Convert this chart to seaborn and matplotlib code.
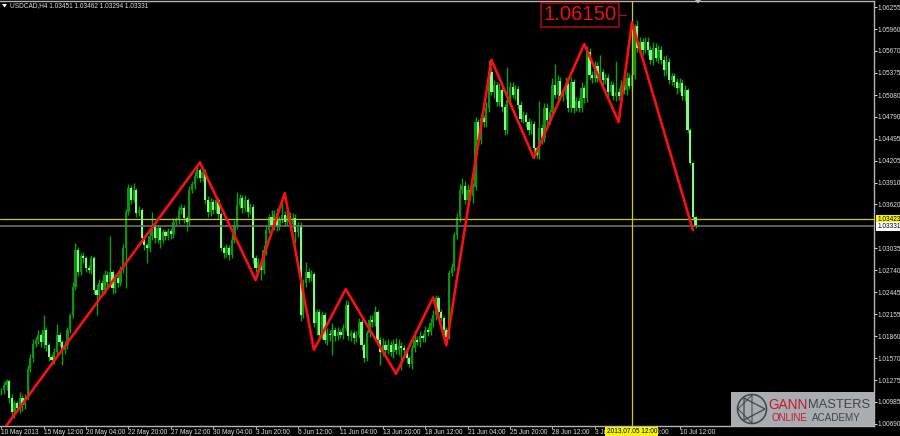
import matplotlib
matplotlib.use("Agg")
import numpy as np
import pandas as pd
import matplotlib.pyplot as plt
import matplotlib.patches as mpatches
import matplotlib.transforms as mtrans
import seaborn as sns

# H4 closes, 10 bars per row
closes = [
    1.0114, 1.0121, 1.0126, 1.0104, 1.0085, 1.0097, 1.0090, 1.0104, 1.0094, 1.0104,
    1.0142, 1.0157, 1.0176, 1.0181, 1.0188, 1.0178, 1.0194, 1.0174, 1.0158, 1.0154,
    1.0165, 1.0188, 1.0178, 1.0168, 1.0174, 1.0194, 1.0214, 1.0252, 1.0301, 1.0272,
    1.0293, 1.0290, 1.0277, 1.0274, 1.0290, 1.0248, 1.0241, 1.0257, 1.0248, 1.0268,
    1.0258, 1.0272, 1.0250, 1.0264, 1.0257, 1.0274, 1.0304, 1.0352, 1.0384, 1.0368,
    1.0381, 1.0351, 1.0355, 1.0317, 1.0308, 1.0304, 1.0320, 1.0335, 1.0317, 1.0330,
    1.0315, 1.0325, 1.0320, 1.0327, 1.0323, 1.0339, 1.0341, 1.0355, 1.0357, 1.0344,
    1.0339, 1.0381, 1.0389, 1.0400, 1.0408, 1.0397, 1.0405, 1.0368, 1.0352, 1.0365,
    1.0355, 1.0368, 1.0349, 1.0304, 1.0297, 1.0304, 1.0295, 1.0315, 1.0335, 1.0361,
    1.0371, 1.0357, 1.0368, 1.0352, 1.0359, 1.0290, 1.0277, 1.0285, 1.0274, 1.0301,
    1.0328, 1.0345, 1.0335, 1.0349, 1.0333, 1.0341, 1.0348, 1.0339, 1.0347, 1.0336,
    1.0344, 1.0325, 1.0335, 1.0214, 1.0257, 1.0272, 1.0264, 1.0269, 1.0204, 1.0218,
    1.0188, 1.0214, 1.0181, 1.0189, 1.0188, 1.0194, 1.0186, 1.0192, 1.0188, 1.0197,
    1.0228, 1.0186, 1.0190, 1.0184, 1.0188, 1.0205, 1.0174, 1.0157, 1.0190, 1.0208,
    1.0205, 1.0218, 1.0181, 1.0165, 1.0174, 1.0168, 1.0174, 1.0165, 1.0176, 1.0168,
    1.0173, 1.0170, 1.0168, 1.0157, 1.0149, 1.0170, 1.0181, 1.0178, 1.0186, 1.0184,
    1.0194, 1.0192, 1.0204, 1.0214, 1.0237, 1.0218, 1.0210, 1.0194, 1.0185, 1.0270,
    1.0279, 1.0321, 1.0345, 1.0381, 1.0387, 1.0368, 1.0381, 1.0373, 1.0385, 1.0472,
    1.0448, 1.0477, 1.0472, 1.0491, 1.0539, 1.0512, 1.0521, 1.0499, 1.0515, 1.0492,
    1.0461, 1.0501, 1.0519, 1.0508, 1.0516, 1.0495, 1.0476, 1.0481, 1.0472, 1.0461,
    1.0469, 1.0437, 1.0428, 1.0464, 1.0451, 1.0491, 1.0475, 1.0485, 1.0521, 1.0508,
    1.0527, 1.0507, 1.0508, 1.0523, 1.0491, 1.0525, 1.0491, 1.0500, 1.0491, 1.0517,
    1.0504, 1.0565, 1.0535, 1.0531, 1.0547, 1.0531, 1.0539, 1.0528, 1.0531, 1.0512,
    1.0521, 1.0507, 1.0512, 1.0507, 1.0521, 1.0515, 1.0531, 1.0520, 1.0535, 1.0600,
    1.0571, 1.0579, 1.0568, 1.0579, 1.0568, 1.0555, 1.0571, 1.0557, 1.0568, 1.0555,
    1.0541, 1.0552, 1.0528, 1.0533, 1.0525, 1.0517, 1.0524, 1.0507, 1.0515, 1.0461,
    1.0417, 1.0345, 1.0333,
]
# wick lengths in pips, same order as closes
upper_pips = [
    3, 4, 3, 2, 5, 4, 3, 8, 4, 5,
    6, 5, 6, 4, 7, 3, 21, 4, 3, 4,
    5, 14, 4, 3, 6, 5, 3, 6, 9, 4,
    4, 5, 3, 4, 5, 3, 8, 6, 4, 7,
    5, 48, 3, 5, 4, 6, 5, 4, 5, 4,
    9, 3, 5, 2, 4, 3, 6, 17, 4, 5,
    3, 4, 3, 4, 3, 5, 4, 5, 6, 4,
    3, 6, 4, 5, 7, 3, 5, 4, 5, 6,
    4, 5, 4, 3, 3, 5, 4, 8, 6, 17,
    5, 4, 6, 3, 5, 3, 4, 5, 6, 7,
    6, 4, 9, 5, 8, 6, 16, 5, 7, 5,
    6, 5, 4, 3, 5, 13, 5, 6, 3, 5,
    4, 6, 5, 8, 5, 10, 5, 7, 4, 6,
    6, 5, 5, 4, 5, 6, 4, 3, 5, 6,
    7, 8, 3, 4, 10, 7, 8, 6, 7, 8,
    9, 6, 5, 4, 3, 5, 14, 6, 7, 5,
    6, 5, 6, 7, 4, 3, 5, 3, 4, 5,
    5, 4, 6, 8, 10, 6, 8, 5, 6, 7,
    4, 6, 5, 8, 16, 6, 7, 4, 9, 5,
    4, 44, 7, 6, 5, 4, 5, 6, 4, 5,
    6, 4, 3, 36, 5, 6, 7, 5, 10, 29,
    8, 5, 6, 9, 5, 7, 4, 6, 5, 8,
    5, 8, 6, 5, 7, 5, 23, 4, 6, 5,
    6, 5, 42, 6, 7, 5, 8, 6, 9, 3,
    8, 6, 5, 7, 6, 5, 8, 6, 7, 6,
    5, 9, 6, 5, 4, 6, 7, 5, 6, 3,
    3, 2, 1,
]
lower_pips = [
    6, 5, 6, 7, 5, 8, 5, 6, 7, 5,
    3, 4, 5, 4, 5, 6, 7, 8, 5, 6,
    5, 4, 5, 20, 6, 5, 4, 3, 4, 5,
    4, 6, 5, 4, 5, 6, 27, 6, 7, 5,
    8, 5, 7, 6, 5, 4, 3, 53, 4, 5,
    3, 6, 4, 5, 7, 20, 6, 5, 7, 6,
    11, 5, 6, 5, 7, 6, 4, 5, 6, 7,
    13, 5, 4, 6, 3, 5, 4, 6, 7, 5,
    6, 5, 7, 4, 6, 5, 7, 4, 5, 6,
    4, 6, 5, 7, 3, 6, 5, 4, 13, 5,
    6, 4, 5, 7, 6, 5, 4, 6, 5, 7,
    5, 14, 6, 8, 3, 5, 6, 4, 5, 16,
    6, 5, 4, 7, 8, 27, 6, 5, 4, 6,
    4, 5, 6, 8, 5, 4, 6, 5, 4, 5,
    6, 5, 3, 17, 5, 7, 6, 5, 8, 6,
    7, 29, 5, 6, 4, 7, 5, 4, 6, 5,
    5, 6, 4, 5, 6, 5, 4, 6, 5, 3,
    4, 6, 5, 7, 5, 6, 8, 5, 9, 4,
    6, 5, 7, 6, 5, 4, 8, 6, 5, 7,
    6, 5, 7, 4, 6, 5, 4, 5, 7, 6,
    5, 6, 4, 6, 8, 5, 7, 6, 5, 4,
    6, 5, 7, 5, 6, 5, 7, 4, 6, 5,
    7, 5, 6, 7, 5, 6, 5, 7, 5, 6,
    4, 6, 7, 5, 6, 5, 7, 4, 8, 5,
    6, 5, 7, 4, 6, 5, 7, 4, 6, 5,
    7, 6, 5, 7, 6, 8, 5, 6, 7, 3,
    3, 2, 2,
]

zigzag_bars = [2, 75, 96, 107, 118, 130, 149, 163, 168, 185, 201, 220, 233, 238, 261]
zigzag_prices = [1.0067, 1.0418, 1.0261, 1.0377, 1.0168, 1.0249, 1.0136, 1.0238, 1.0174,
                 1.0555, 1.0424, 1.0576, 1.0472, 1.0605, 1.0328]

price_ticks = [1.06255, 1.05960, 1.05670, 1.05375, 1.05080, 1.04790, 1.04495, 1.04205,
               1.03910, 1.03620, 1.03035, 1.02740, 1.02445, 1.02155, 1.01860, 1.01570,
               1.01275, 1.00985, 1.00690]
date_labels = ["10 May 2013", "15 May 12:00", "20 May 04:00", "22 May 20:00", "27 May 12:00",
               "30 May 04:00", "3 Jun 20:00", "6 Jun 12:00", "11 Jun 04:00", "13 Jun 20:00",
               "18 Jun 12:00", "21 Jun 04:00", "25 Jun 20:00", "28 Jun 12:00", "3 Jul 04:00",
               "5 Jul 20:00", "10 Jul 12:00"]
date_bars = list(range(0, 16 * len(date_labels), 16))

bid_price = 1.03331
marked_price = 1.03423
cross_bar = 238
peak_label = 1.06150

UP = "#0a960a"
DOWN = "#86f886"
WICK = "#0da00d"
GRID = "#b4b4b4"
TEXT = "#e0e0e0"
YELLOW = "#c9c72a"
LABEL_SIZE = 4.7

sns.set_theme(style="dark", rc={"axes.facecolor": "black", "figure.facecolor": "black",
                                "savefig.facecolor": "black"})
plt.rcParams["font.family"] = ["Liberation Sans", "DejaVu Sans"]

df = pd.DataFrame({"close": closes})
df["bar"] = np.arange(len(df))
df["open"] = df["close"].shift(1).fillna(df["close"])
df["high"] = df[["open", "close"]].max(axis=1) + np.array(upper_pips) / 10000
df["low"] = df[["open", "close"]].min(axis=1) - np.array(lower_pips) / 10000
df["rising"] = df["close"] >= df["open"]

fig = plt.figure(figsize=(9, 4.36), dpi=100)
ax = fig.add_axes([0, 10 / 436, 874 / 900, 425 / 436])

ax.vlines(df["bar"], df["low"], df["high"], color=WICK, lw=1.0, zorder=2)
ax.bar(df["bar"], (df["close"] - df["open"]).abs(), bottom=df[["open", "close"]].min(axis=1),
       width=0.85, color=np.where(df["rising"], UP, DOWN), lw=0, zorder=3)

ax.axhline(marked_price, color=YELLOW, lw=0.9, zorder=4)
ax.axhline(bid_price, color="#6e6e6e", lw=1.2, zorder=4)
ax.axvline(cross_bar, color=YELLOW, lw=0.9, zorder=4)

zigzag = pd.DataFrame({"bar": zigzag_bars, "price": zigzag_prices})
sns.lineplot(data=zigzag, x="bar", y="price", sort=False, estimator=None, color="#fa1010",
             lw=1.9, ax=ax, zorder=5)

# axis scale: 2.65 px per bar, 7493 px per unit of price
ax.set_xlim(-1.2 / 2.65, (874 - 1.2) / 2.65)
ax.set_ylim(1.00690 - 2 / 7493, 1.06255 + 6 / 7493)
ax.set_xlabel("")
ax.set_ylabel("")

ax.yaxis.tick_right()
ax.set_yticks(price_ticks)
ax.set_yticklabels([f"{p:.5f}" for p in price_ticks])
ax.set_xticks(date_bars)
ax.set_xticklabels(date_labels, ha="left")
ax.tick_params(axis="y", length=2, width=0.7, color=TEXT, labelcolor=TEXT, labelsize=LABEL_SIZE, pad=0.8, right=True)
ax.tick_params(axis="x", length=1.8, width=0.7, color=GRID, labelcolor=TEXT, labelsize=LABEL_SIZE, pad=0, bottom=True)
for name in ["top", "right", "bottom"]:
    ax.spines[name].set_color(GRID)
    ax.spines[name].set_linewidth(1.0)
ax.spines["left"].set_visible(False)

# price flags on the right, time flag under the crosshair
flag_x = mtrans.blended_transform_factory(ax.transAxes, ax.transData)
for price, bg in [(marked_price, "#f6f600"), (bid_price, "white")]:
    ax.text(1.0035, price, f"{price:.5f}", transform=flag_x, fontsize=LABEL_SIZE, color="black", va="center",
            ha="left", clip_on=False, zorder=7,
            bbox=dict(facecolor=bg, edgecolor="none", pad=0.7))
flag_y = mtrans.blended_transform_factory(ax.transData, ax.transAxes)
ax.text(cross_bar, -0.0135, "2013.07.05 12:00", transform=flag_y, fontsize=LABEL_SIZE, color="black", va="center",
        ha="center", clip_on=False, zorder=7, bbox=dict(facecolor="#f6f600", edgecolor="none", pad=0.9))

# level label of the peak with its leader
ax.text(218.4, peak_label, f"{peak_label:.5f}", fontsize=14.6, color="#f01010", va="center", ha="center",
        zorder=6, bbox=dict(facecolor="black", edgecolor="#a80808", lw=1.2, pad=1.6))
ax.plot([233, 235.6], [peak_label, peak_label], color="#b01010", lw=0.8, zorder=6)

# overlay in screen pixels for the header and the logo
over = fig.add_axes([0, 0, 1, 1], facecolor="none")
over.set_xlim(0, 900)
over.set_ylim(436, 0)
over.axis("off")
over.text(10, 5.8, "USDCAD,H4 1.03451 1.03462 1.03294 1.03331", fontsize=LABEL_SIZE, color=TEXT, va="center")
over.add_patch(mpatches.Polygon([[2, 4], [7, 4], [4.5, 7.5]], color="white", lw=0))
over.add_patch(mpatches.Polygon([[695, 0], [701, 0], [698, 3.5]], color="#b8bcc4", lw=0))

over.add_patch(mpatches.Rectangle((731, 392), 143, 34, facecolor="#a9adb1", edgecolor="none"))
LOGO = "#3f454b"
over.add_patch(mpatches.Circle((752, 409), 14.5, fill=False, edgecolor=LOGO, lw=1.1))
over.add_patch(mpatches.Polygon([[744, 398], [765, 409], [744, 420]], fill=False, edgecolor=LOGO, lw=0.9))
over.add_patch(mpatches.Polygon([[738, 409], [752, 395], [752, 423]], fill=False, edgecolor=LOGO, lw=0.7))
over.text(768, 405, "GANN", fontsize=9.8, color="#c4182c", va="center", ha="left")
over.text(808, 405, "MASTERS", fontsize=9.3, color=LOGO, va="center", ha="left")
over.text(772, 417.5, "ONLINE", fontsize=7, color="#c4182c", va="center", ha="left")
over.text(812, 417.5, "ACADEMY", fontsize=7.1, color=LOGO, va="center", ha="left")

fig.savefig("out.png", dpi=100)
